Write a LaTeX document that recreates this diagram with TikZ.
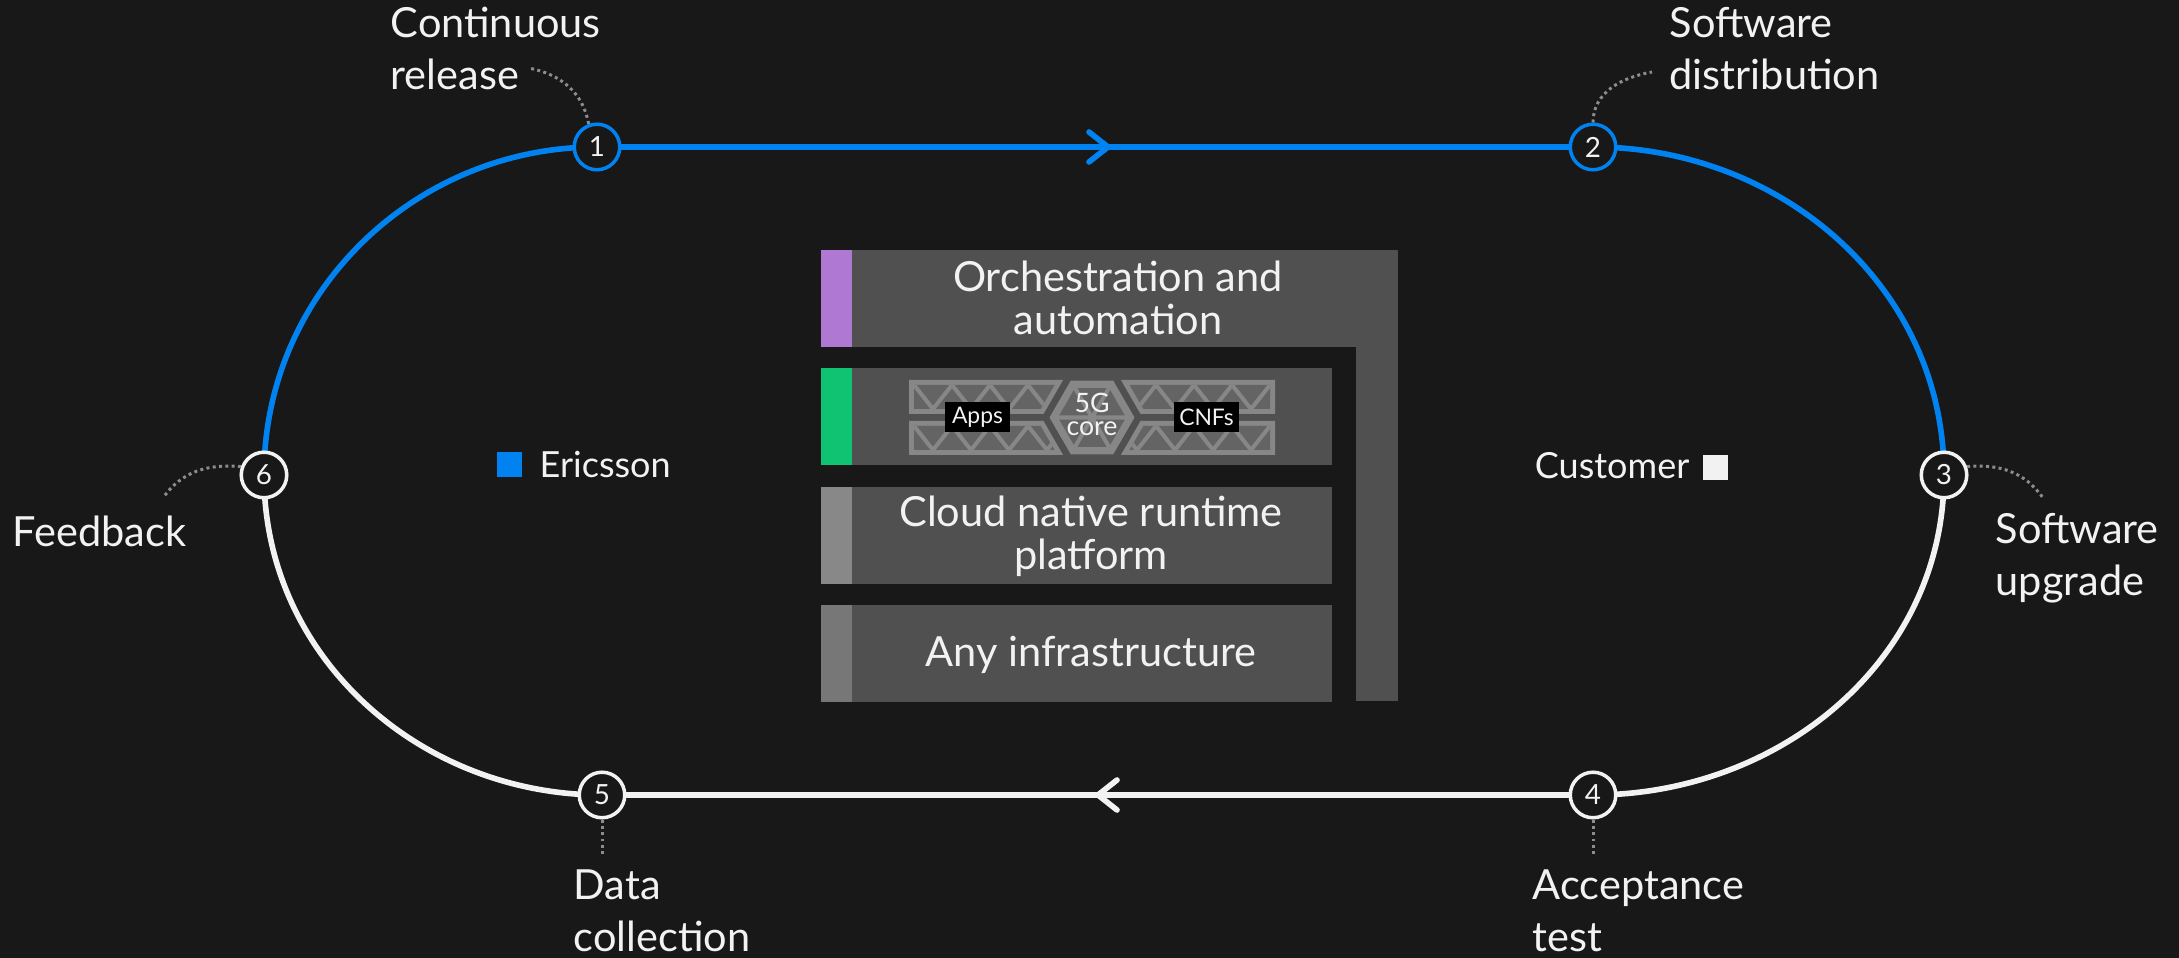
\documentclass[tikz,border=0pt]{standalone}
\usepackage{fontspec}
\setmainfont{Lato}
\begin{document}
\pgfdeclarelayer{back}
\pgfsetlayers{back,main}
\definecolor{bgc}{HTML}{181818}
\definecolor{eblue}{HTML}{0082F0}
\definecolor{ewhite}{HTML}{F2F2F2}
\definecolor{boxg}{HTML}{505050}
\definecolor{patl}{HTML}{878787}
\definecolor{patd}{HTML}{646464}
\definecolor{purp}{HTML}{AF78D2}
\definecolor{grn}{HTML}{0FC373}
\definecolor{barthree}{HTML}{888888}
\definecolor{barfour}{HTML}{777777}
\definecolor{leadc}{HTML}{8C8C8C}
% one half of the 5G core truss band (left side); mirrored for the right side
\newcommand\trusshalf{%
  \fill[patl] (909,544) -- (909,578) -- (1063.1,578) -- (1043.5,544) -- cycle;
  \begin{scope}
    \clip (914,549) -- (914,573) -- (1054.5,573) -- (1040.6,549) -- cycle;
    \fill[patd] (900,540) rectangle (1080,580);
    \draw[patl, line width=1.15pt, line join=bevel] (914,573)
      \foreach \k in {1,...,8}{ -- ({914+19*\k},{573-24*mod(\k,2)}) };
  \end{scope}
  \fill[patl] (909,503) -- (909,537) -- (1043.5,537) -- (1063.1,503) -- cycle;
  \begin{scope}
    \clip (914,508) -- (914,532) -- (1040.6,532) -- (1054.5,508) -- cycle;
    \fill[patd] (900,500) rectangle (1080,540);
    \draw[patl, line width=1.15pt, line join=bevel] (914,532)
      \foreach \k in {1,...,8}{ -- ({914+19*\k},{532-24*mod(\k,2)}) };
  \end{scope}
}
\begin{tikzpicture}[x=0.01cm,y=0.01cm,
  stage/.style={circle, draw=#1, line width=1pt, fill=bgc, minimum size=0.455cm,
    inner sep=0pt, text=ewhite, font=\fontsize{7.9}{8}\selectfont},
  track/.style={line width=1.6pt, draw=#1},
  leader/.style={draw=leadc, line width=0.85pt, dash pattern=on 0.85pt off 0.95pt},
  stagetext/.style={anchor=base west, align=left, inner sep=0pt, text=ewhite,
    font=\fontsize{11.8}{14.8}\selectfont},
  boxtext/.style={anchor=base, align=center, inner sep=0pt, text=ewhite,
    font=\fontsize{11.8}{12.23}\selectfont},
  sidetext/.style={inner sep=0pt, text=ewhite, font=\fontsize{10.24}{12}\selectfont},
  swatch/.style={minimum size=0.25cm, inner sep=0pt, fill=#1},
  tag/.style={fill=black, text=ewhite, minimum width=0.65cm, minimum height=0.3cm,
    inner sep=0pt, font=\fontsize{6.5}{7}\selectfont},
]
\begin{pgfonlayer}{back}
  \fill[bgc] (0,0) rectangle (2179,958);
\end{pgfonlayer}
\useasboundingbox (0,0) rectangle (2179,958);

% stage markers on the loop
\node[stage=eblue] (c1) at (597,811) {1};
\node[stage=eblue] (c2) at (1593,811) {2};
\node[stage=ewhite] (c3) at (1944,483) {3};
\node[stage=ewhite] (c4) at (1593,163) {4};
\node[stage=ewhite] (c5) at (602,163) {5};
\node[stage=ewhite] (c6) at (264,483) {6};

% the loop itself
\begin{pgfonlayer}{back}
  \draw[track=eblue] (c6.center) to[out=90,in=180] (c1.center) -- (c2.center)
    to[out=0,in=90] (c3.center);
  \draw[track=ewhite] (c3.center) to[out=-90,in=0] (c4.center) -- (c5.center)
    to[out=180,in=-90] (c6.center);
\end{pgfonlayer}

% direction chevrons
\draw[track=eblue, line cap=round, line join=round] (1089,826) -- (1108,811) -- (1089,796);
\draw[track=ewhite, line cap=round, line join=round] (1117,178) -- (1098,163) -- (1117,148);

% leader ends
\coordinate (e1) at (528,890);
\coordinate (e2) at (1652,886);
\coordinate (e3) at (2043,460);
\coordinate (e4) at (1593,102);
\coordinate (e5) at (602,102);
\coordinate (e6) at (163,460);

\draw[leader] (c1.110) to[out=100,in=-10] (e1);
\draw[leader] (c2.90) to[out=90,in=190] (e2);
\draw[leader] (c3.20) to[out=5,in=125] (e3);
\draw[leader] (c4.south) -- (e4);
\draw[leader] (c5.south) -- (e5);
\draw[leader] (c6.160) to[out=175,in=55] (e6);

% stage captions (anchored at the baseline of their last line)
\node[stagetext] (t1) at (390,868) {Continuous\\release};
\node[stagetext] (t2) at (1669,868) {Software\\distribution};
\node[stagetext] (t3) at (1995,362) {Software\\upgrade};
\node[stagetext] (t4) at (1532,6) {Acceptance\\test};
\node[stagetext] (t5) at (573,6) {Data\\collection};
\node[stagetext] (t6) at (12,411) {Feedback};

% ownership legend
\node[swatch=eblue] (sq1) at (509.5,493.5) {};
\node[sidetext, anchor=base west] (own1) at (539,480) {Ericsson};
\node[sidetext, anchor=base east] (own2) at (1690,479) {Customer};
\node[swatch=ewhite] (sq2) at (1715.5,490.5) {};

% layered stack
\fill[boxg] (821,611) rectangle (1398,708);
\fill[boxg] (1356,257) rectangle (1398,611);
\fill[purp] (821,611) rectangle (852,708);
\fill[boxg] (821,493) rectangle (1332,590);
\fill[grn] (821,493) rectangle (852,590);
\fill[boxg] (821,374) rectangle (1332,471);
\fill[barthree] (821,374) rectangle (852,471);
\fill[boxg] (821,256) rectangle (1332,353);
\fill[barfour] (821,256) rectangle (852,353);

\node[boxtext] (orch) at (1118,623) {Orchestration and\\automation};
\node[boxtext] (cnrp) at (1091,388) {Cloud native runtime\\platform};
\node[boxtext] (infra) at (1091,291) {Any infrastructure};

% 5G core band
\trusshalf
\begin{scope}[shift={(2184,0)}, xscale=-1]
  \trusshalf
\end{scope}
\begin{scope}[shift={(1092,540.5)}]
  \fill[patl] (0:42.5) -- (60:42.5) -- (120:42.5) -- (180:42.5) -- (240:42.5) -- (300:42.5) -- cycle;
  \fill[patd] (0:34) -- (60:34) -- (120:34) -- (180:34) -- (240:34) -- (300:34) -- cycle;
  \draw[patl, line width=1.15pt] (0:34) -- (180:34) (60:34) -- (240:34) (120:34) -- (300:34);
\end{scope}
\node[tag] (apps) at (977.5,541) {Apps};
\node[tag] (cnfs) at (1206.5,541) {CNFs};
\node[anchor=base, align=center, inner sep=0pt, text=ewhite,
  font=\fontsize{7.6}{6.6}\selectfont] (core) at (1092,522) {5G\\core};
\end{tikzpicture}
\end{document}
